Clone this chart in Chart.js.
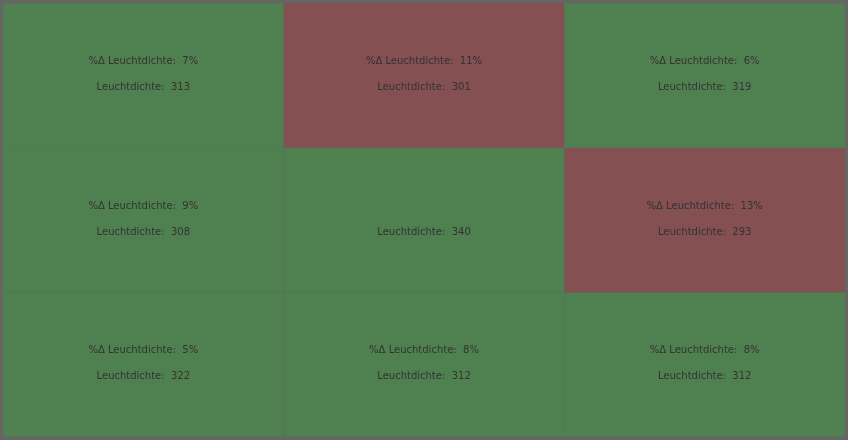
<!DOCTYPE html>
<html>
<head>
<meta charset="utf-8">
<script src="https://cdn.jsdelivr.net/npm/chart.js@4/dist/chart.umd.min.js"></script>
<style>
  html, body { margin: 0; padding: 0; background: #656565; }
  #wrap { width: 848px; height: 440px; }
</style>
</head>
<body>
<div id="wrap"><canvas id="c" width="848" height="440"></canvas></div>
<script>
// 3x3 grid of luminance readings, row by row (top to bottom, left to right)
const columns = ['L', 'M', 'R'];
const rows = ['oben', 'mitte', 'unten'];
const luminance = [313, 301, 319, 308, 340, 293, 322, 312, 312];
// deviation from the centre reading in percent (centre has none)
const deltaPct = [7, 11, 6, 9, null, 13, 5, 8, 8];
const threshold = 10;

const GREEN = '#4f8150';
const RED = '#845052';

// one floating-bar dataset per row; each bar spans [row, row + 1]
const datasets = rows.map((r, ri) => ({
  label: r,
  data: columns.map(() => [ri, ri + 1]),
  backgroundColor: columns.map((c, ci) => {
    const p = deltaPct[ri * 3 + ci];
    return p !== null && p > threshold ? RED : GREEN;
  }),
  borderColor: 'rgba(96,104,96,0.9)',
  borderWidth: 0.5,
  borderSkipped: false,
  barPercentage: 1,
  categoryPercentage: 1,
  grouped: false
}));

const cellLabels = {
  id: 'cellLabels',
  afterDatasetsDraw(chart) {
    const ctx = chart.ctx;
    ctx.save();
    ctx.font = '10px "DejaVu Sans"';
    ctx.fillStyle = '#333333';
    ctx.textAlign = 'center';
    ctx.textBaseline = 'middle';
    chart.data.datasets.forEach((ds, ri) => {
      chart.getDatasetMeta(ri).data.forEach((bar, ci) => {
        const i = ri * 3 + ci;
        const cx = bar.x;
        const cy = (bar.y + bar.base) / 2;
        if (deltaPct[i] !== null) {
          ctx.fillText('%\u0394 Leuchtdichte:  ' + deltaPct[i] + '%', cx, cy - 14);
        }
        ctx.fillText('Leuchtdichte:  ' + luminance[i], cx, cy + 12);
      });
    });
    ctx.restore();
  }
};

new Chart(document.getElementById('c'), {
  type: 'bar',
  data: { labels: columns, datasets },
  options: {
    responsive: false,
    animation: false,
    layout: { padding: 3 },
    plugins: { legend: { display: false }, tooltip: { enabled: false } },
    scales: {
      x: { display: false },
      y: { display: false, min: 0, max: 3, reverse: true }
    }
  },
  plugins: [cellLabels]
});
</script>
</body>
</html>
